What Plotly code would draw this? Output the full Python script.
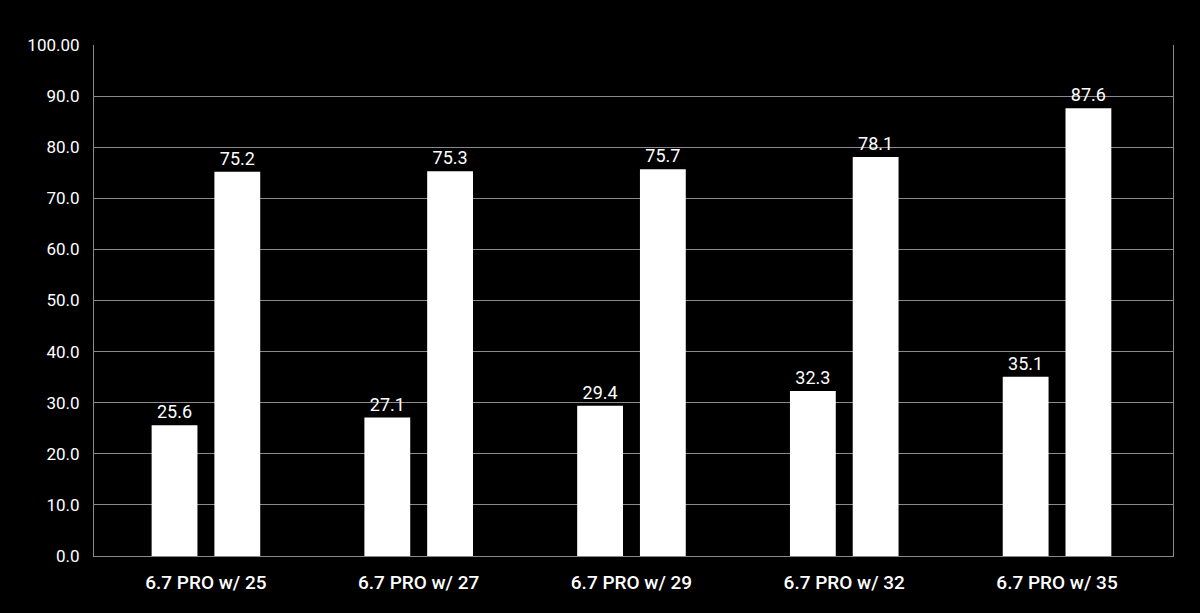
import plotly.graph_objects as go

categories = ["6.7 PRO w/ 25", "6.7 PRO w/ 27", "6.7 PRO w/ 29", "6.7 PRO w/ 32", "6.7 PRO w/ 35"]
series_a = [25.6, 27.1, 29.4, 32.3, 35.1]
series_b = [75.2, 75.3, 75.7, 78.1, 87.6]
tick_vals = [0, 10, 20, 30, 40, 50, 60, 70, 80, 90, 100]
tick_text = ["0.0", "10.0", "20.0", "30.0", "40.0", "50.0", "60.0", "70.0", "80.0", "90.0", "100.00"]

FONT = "Roboto"

fig = go.Figure()
for vals in (series_a, series_b):
    fig.add_trace(go.Bar(
        x=categories, y=vals,
        marker=dict(color="#ffffff", line=dict(width=0)),
        text=[f"{v:.1f}" for v in vals],
        textposition="outside",
        textfont=dict(color="#ffffff", size=18, family=FONT),
        cliponaxis=False,
        showlegend=False,
    ))

fig.update_layout(
    width=1200, height=613,
    paper_bgcolor="#000000", plot_bgcolor="#000000",
    margin=dict(l=94, r=27, t=45, b=57),
    barmode="group", bargap=0.41, bargroupgap=0.27,
    font=dict(family=FONT, color="#ffffff"),
    xaxis=dict(
        range=[-0.526, 4.545],
        showgrid=False, showline=True, linecolor="#8a8a8a", linewidth=1,
        mirror=False, ticks="", tickfont=dict(size=19, family=FONT, weight=500, color="#ffffff"),
        ticklabelstandoff=9,
    ),
    yaxis=dict(
        range=[0, 100], tickvals=tick_vals, ticktext=tick_text,
        showgrid=True, gridcolor="#8a8a8a", gridwidth=1,
        showline=True, linecolor="#8a8a8a", linewidth=1, mirror=True,
        zeroline=False, ticks="", tickfont=dict(size=17, color="#ffffff"),
        ticklabelstandoff=10,
    ),
)

fig.write_html(
    "out.html",
    config={"displayModeBar": False},
    post_script="document.body.style.margin='0';document.body.style.padding='0';document.body.style.background='#000';",
)
